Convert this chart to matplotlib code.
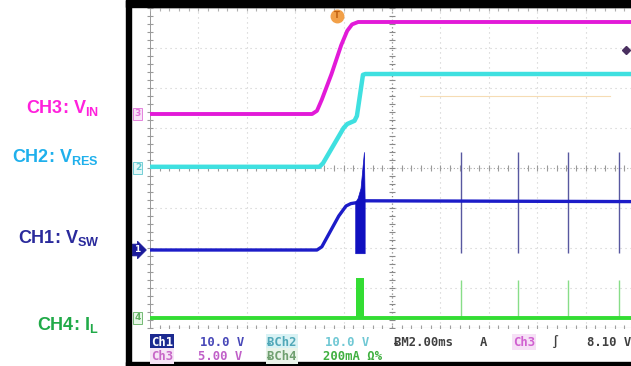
import numpy as np
import matplotlib.pyplot as plt
from matplotlib.patches import Rectangle
from matplotlib.transforms import blended_transform_factory

plt.rcParams['mathtext.fontset'] = 'custom'
plt.rcParams['mathtext.bf'] = 'Liberation Sans:bold'
plt.rcParams['mathtext.rm'] = 'Liberation Sans:bold'

# czas w ms (2 ms/dz), napiecia w V, prad w mA
vin_t = [-10, -3.3, -3.1, -2.9, -2.5, -2.1, -1.85, -1.65, -1.4, 10]
vin_v = [0.0, 0.0, 0.4, 1.8, 5.0, 8.6, 10.4, 11.2, 11.5, 11.5]

vres_t = [-10, -3.0, -2.85, -2.0, -1.85, -1.55, -1.45, -1.2, -1.1, 10]
vres_v = [0.3, 0.3, 1.2, 10.0, 11.0, 11.8, 13.0, 23.3, 23.5, 23.5]

vsw_t = [-10, -3.1, -2.9, -2.2, -1.9, -1.7, -1.5, -1.12, 10]
vsw_v = [0.0, 0.0, 0.8, 8.5, 11.0, 11.6, 11.8, 12.3, 12.1]

burst_t = [-1.52, -1.42, -1.3, -1.16, -1.13]
burst_hi = [12.0, 13.0, 15.5, 24.5, 12.0]
burst_lo = -0.8
spike_t = [2.85, 5.21, 7.27, 9.38]
spike_hi = 24.5

il_t = [-10, 10]
il_v = [0, 0]
il_burst_t = [-1.49, -1.16]
il_burst = 200
il_spike = 190

# ustawienia kanalow: V/dz, pozycja (dz)
ch = {'3': (5.0, 1.35), '2': (10.0, 0.0), '1': (10.0, -2.05), '4': (200.0, -3.75)}


def dz(v, k):
    s, p = ch[k]
    return np.asarray(v, dtype=float) / s + p


W, H = 631, 366
fig = plt.figure(figsize=(W / 100, H / 100), dpi=100)
ax = fig.add_axes([150 / W, 38 / H, 484 / W, 320 / H])
ax.set_xlim(-10, 10)
ax.set_ylim(-4, 4)
ax.axis('off')

# siatka
for t in np.arange(-8, 10, 2):
    if t != 0:
        ax.axvline(t, color='#cccccc', lw=0.8, ls=(0, (1, 3.5)), zorder=1)
for d in range(-3, 4):
    if d != 0:
        ax.axhline(d, color='#cccccc', lw=0.8, ls=(0, (1, 3.5)), zorder=1)
ax.axhline(0, color='#a8a8a8', lw=0.8, ls=(0, (1, 2)), zorder=1)
ax.axvline(0, color='#8a8a8a', lw=0.9, ls=(0, (1, 2)), zorder=1)
ax.axvline(-10, color='#9a9a9a', lw=1.4, zorder=1)
ax.axhline(-4, color='#b0b0b0', lw=0.8, zorder=1)
ax.axhline(4, color='#d0d0d0', lw=0.8, zorder=1)
tx = np.arange(-10, 10.01, 0.4)
ty = np.arange(-4, 4.01, 0.2)
ax.plot(tx, np.zeros_like(tx), ls='', marker='|', ms=5, mew=0.8, color='#9a9a9a', zorder=1)
ax.plot(tx, np.full_like(tx, -4), ls='', marker='|', ms=5, mew=0.8, color='#a0a0a0', zorder=1)
ax.plot(tx, np.full_like(tx, 4), ls='', marker='|', ms=5, mew=0.8, color='#b0b0b0', zorder=1, clip_on=False)
ax.plot(np.zeros_like(ty), ty, ls='', marker='_', ms=5, mew=0.8, color='#8a8a8a', zorder=1)
ax.plot(np.full_like(ty, -10), ty, ls='', marker='_', ms=5, mew=0.8, color='#9a9a9a', zorder=1, clip_on=False)

# slaby pomaranczowy poziom
ax.plot([1.16, 9.0], [1.8, 1.8], color='#f6dcb4', lw=0.8, zorder=1)

# przebiegi
ax.plot(vin_t, dz(vin_v, '3'), color='#e21ad8', lw=2.8, zorder=3)
ax.plot(vres_t, dz(vres_v, '2'), color='#3fe0e0', lw=3.2, zorder=3)
ax.plot(il_t, dz(il_v, '4'), color='#33dd33', lw=2.8, zorder=3)
ax.fill_between(il_burst_t, dz(0, '4'), dz(il_burst, '4'), color='#33dd33', lw=0, zorder=3)
ax.vlines(spike_t, dz(0, '4'), dz(il_spike, '4'), color='#88dd88', lw=1.0, zorder=2)
ax.plot(vsw_t, dz(vsw_v, '1'), color='#1c1cc8', lw=2.4, zorder=4)
ax.fill_between(burst_t, dz(burst_lo, '1'), dz(burst_hi, '1'), color='#1010c0', lw=0.5, zorder=4)
ax.vlines(spike_t, dz(burst_lo, '1'), dz(spike_hi, '1'), color='#5858a0', lw=1.0, zorder=2)

# znaczniki kanalow
tr = blended_transform_factory(ax.transAxes, ax.transData)
marks = [('3', '#e070d8', '#f8e4f8'), ('2', '#60c8d0', '#e4f8f8'), ('4', '#60b060', '#e8f8e8')]
for k, c, bg in marks:
    ax.text(-0.025, ch[k][1], k, transform=tr, ha='center', va='center', fontsize=6.5,
            color=c, fontweight='bold', clip_on=False,
            bbox=dict(boxstyle='square,pad=0.15', fc=bg, ec=c, lw=0.6))
ax.text(-0.027, ch['1'][1], '1', transform=tr, ha='center', va='center', fontsize=6.5,
        color='white', fontweight='bold', clip_on=False,
        bbox=dict(boxstyle='rarrow,pad=0.15', fc='#1a1a9a', ec='#1a1a9a', lw=0.6))

# wyzwalanie
ax.plot(-2.27, 3.8, marker='o', ms=9, color='#f2a048', clip_on=False, zorder=5)
ax.text(-2.27, 3.8, 'T', ha='center', va='center', fontsize=6, color='#c06010',
        fontweight='bold', clip_on=False, zorder=6)
ax.plot(9.67, 2.95, marker='D', ms=4, color='#4a3060', clip_on=False, zorder=5)

# ramka
fig.add_artist(Rectangle((126 / W, 0), 5 / W, 1, transform=fig.transFigure, color='black'))
fig.add_artist(Rectangle((126 / W, 1 - 7 / H), 1, 7 / H, transform=fig.transFigure, color='black'))
fig.add_artist(Rectangle((126 / W, 0), 1, 4 / H, transform=fig.transFigure, color='black'))

# opisy kanalow
labels = [(113, r'CH3: $\mathbf{V_{IN}}$', '#ff20dc'),
          (162, r'CH2: $\mathbf{V_{RES}}$', '#1fb0ec'),
          (243, r'CH1: $\mathbf{V_{SW}}$', '#2a2a9c'),
          (330, r'CH4: $\mathbf{I_{L}}$', '#20aa48')]
for y, s, c in labels:
    fig.text(99 / W, 1 - y / H, s, ha='right', va='baseline', color=c,
             fontsize=13, fontweight='bold', family='Liberation Sans')

# linia statusu
fam = ['DejaVu Sans Mono', 'DejaVu Sans']
status = [(151, 342, 'Ch1', 'white', '#1c2a90'),
          (200, 342, '10.0 V', '#4848b8', None),
          (267, 342, 'ɃCh2', '#50a8b8', '#d8f2f4'),
          (325, 342, '10.0 V', '#70c8d4', None),
          (394, 342, 'ɃM2.00ms', '#404040', None),
          (480, 342, 'A', '#404040', None),
          (513, 342, 'Ch3', '#d060d0', '#f6e0f6'),
          (551, 342, '∫', '#404040', None),
          (587, 342, '8.10 V', '#404040', None),
          (151, 356, 'Ch3', '#c868c8', '#f6e4f6'),
          (198, 356, '5.00 V', '#c060c8', None),
          (267, 356, 'ɃCh4', '#70a070', '#eaf4ea'),
          (323, 356, '200mA Ω%', '#40b040', None)]
for x, y, s, c, bg in status:
    kw = dict(bbox=dict(boxstyle='square,pad=0.1', fc=bg, ec='none')) if bg else {}
    fig.text(x / W, 1 - y / H, s, ha='left', va='center', color=c, fontsize=8.8,
             fontweight='bold', family=fam, **kw)

plt.savefig('out.png', dpi=100)
